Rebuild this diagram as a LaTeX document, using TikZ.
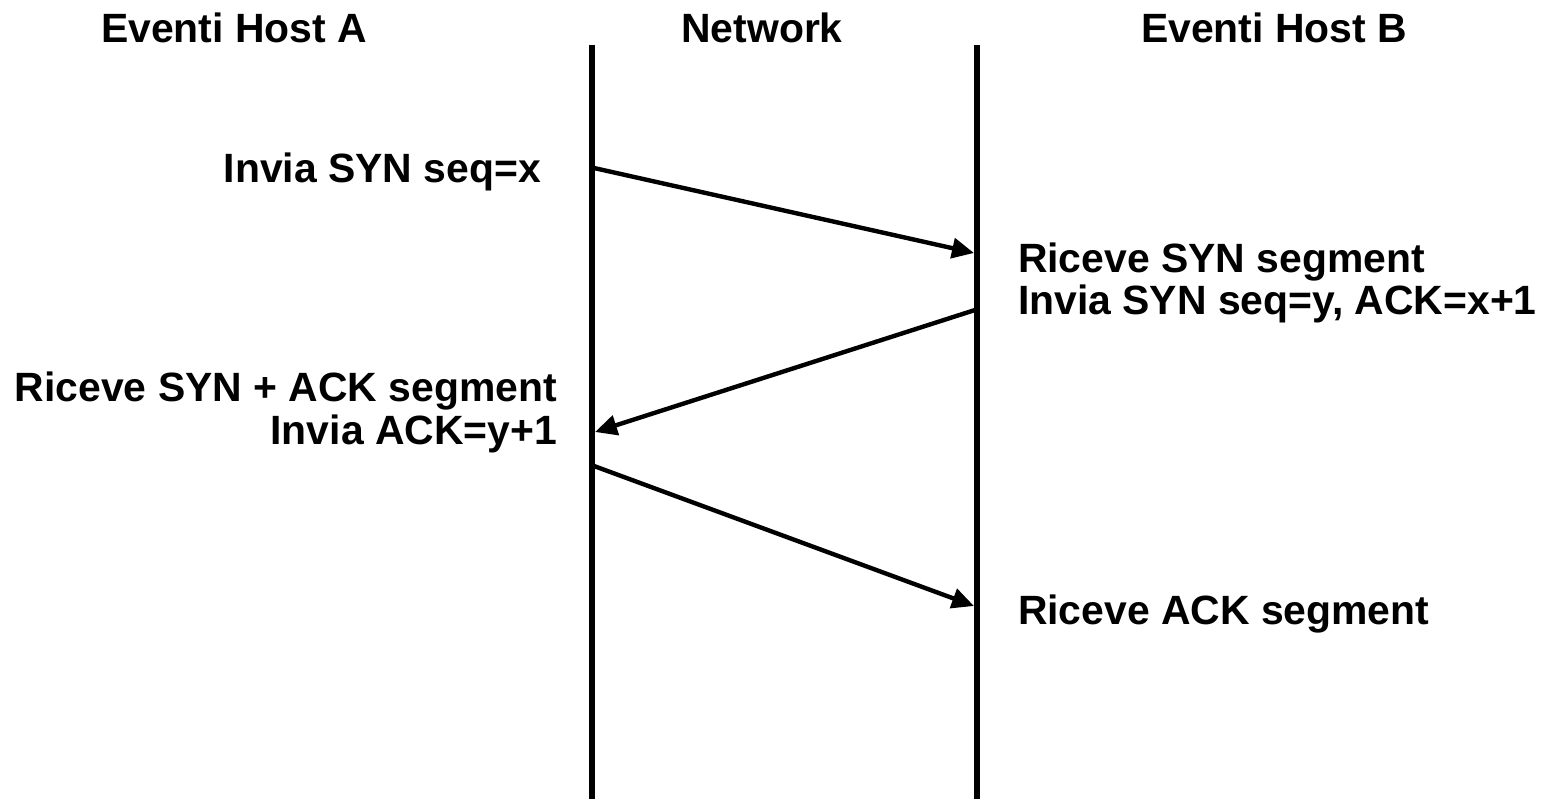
\documentclass[tikz,border=0pt]{standalone}
\usepackage{fontspec}
\setmainfont{Liberation Sans}
\usetikzlibrary{arrows.meta}
\begin{document}
\begin{tikzpicture}[x=0.5pt,y=-0.5pt,
  lbl/.style={font=\fontsize{20.45}{24}\selectfont\bfseries, inner sep=0pt, outer sep=0pt},
  lifeline/.style={line width=2.8pt},
  msg/.style={line width=2.2pt, -{Triangle[length=11pt,width=10pt]}}]
  \useasboundingbox (0,0) rectangle (1546,799);

  % column headings
  \node[lbl, anchor=base] (hA) at (234,42) {Eventi Host A};
  \node[lbl, anchor=base] (hN) at (762,42) {Network};
  \node[lbl, anchor=base] (hB) at (1274,42) {Eventi Host B};

  % lifelines
  \coordinate (lA0) at (592,45);  \coordinate (lA1) at (592,799);
  \coordinate (lB0) at (977,45);  \coordinate (lB1) at (977,799);
  \draw[lifeline] (lA0) -- (lA1);
  \draw[lifeline] (lB0) -- (lB1);

  % events on host A
  \node[lbl, anchor=base east] (e1) at (541,182) {Invia SYN seq=x};
  \node[lbl, anchor=base east] (e4) at (557,401) {Riceve SYN + ACK segment};
  \node[lbl, anchor=base east] (e5) at (557,444) {Invia ACK=y+1};

  % events on host B
  \node[lbl, anchor=base west] (e2) at (1018,272) {Riceve SYN segment};
  \node[lbl, anchor=base west] (e3) at (1018,314) {Invia SYN seq=y, ACK=x+1};
  \node[lbl, anchor=base west] (e6) at (1018,624) {Riceve ACK segment};

  % message endpoints on the lifelines
  \coordinate (s1) at (594,168);  \coordinate (r1) at (974,253);
  \coordinate (s2) at (975,310);  \coordinate (r2) at (595,432);
  \coordinate (s3) at (594,466);  \coordinate (r3) at (974,606);

  \draw[msg] (s1) -- (r1);
  \draw[msg] (s2) -- (r2);
  \draw[msg] (s3) -- (r3);
\end{tikzpicture}
\end{document}
